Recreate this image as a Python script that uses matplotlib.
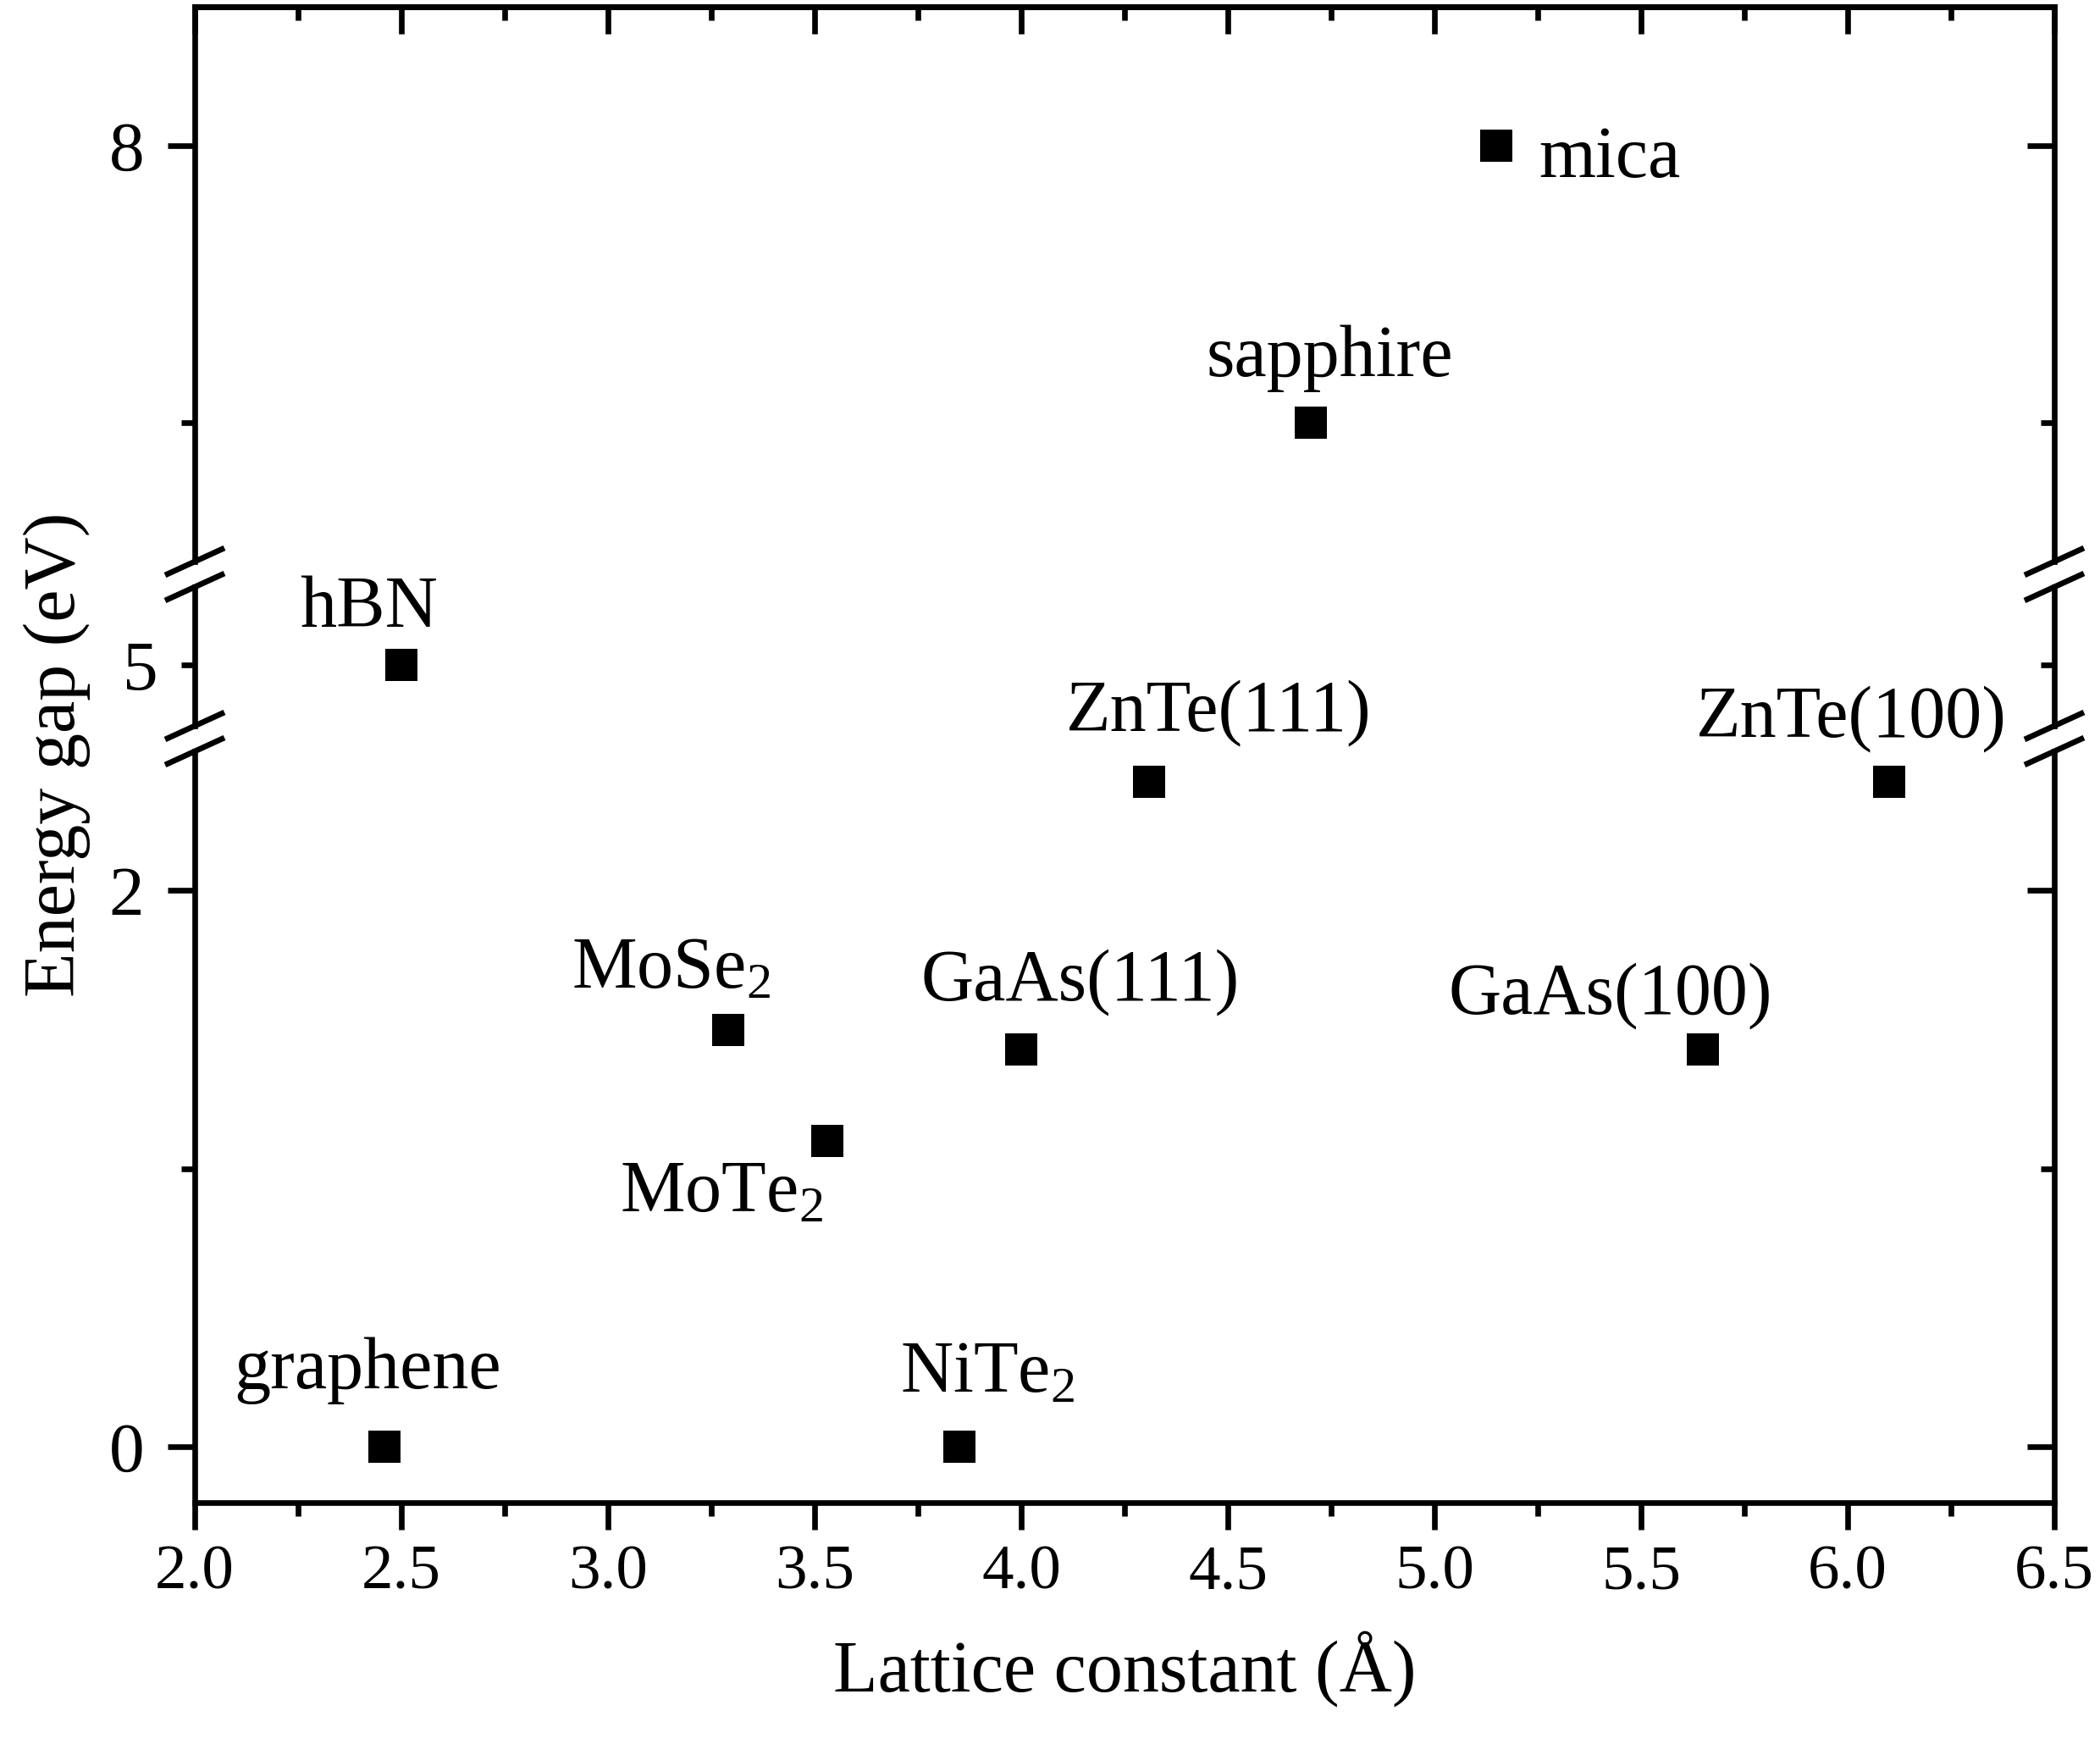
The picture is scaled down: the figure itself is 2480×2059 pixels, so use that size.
import matplotlib
matplotlib.use("Agg")
import matplotlib.pyplot as plt
from matplotlib.lines import Line2D
import numpy as np

plt.rcParams['font.family'] = ['Liberation Serif', 'DejaVu Serif']
plt.rcParams['mathtext.fontset'] = 'custom'
plt.rcParams['mathtext.rm'] = 'Liberation Serif'
plt.rcParams['mathtext.it'] = 'Liberation Serif:italic'

# data
materials = ['graphene', 'hBN', 'MoSe$_2$', 'MoTe$_2$', 'GaAs(111)', 'NiTe$_2$',
             'ZnTe(111)', 'sapphire', 'mica', 'GaAs(100)', 'ZnTe(100)']
lattice = [2.46, 2.50, 3.29, 3.53, 4.00, 3.85, 4.31, 4.70, 5.15, 5.65, 6.10]
gap = [0.0, 5.0, 1.50, 1.10, 1.43, 0.0, 2.39, 7.0, 8.0, 1.43, 2.39]
# label offsets (points) from each marker
label_dx = [-15, -28, -48, -90, 50, 24, 59, 16, 96, -79, -32]
label_dy = [50, 32, 36, -60, 42, 47, 44, 40, -27, 30, 39]

# broken y axis segments: (ymin, ymax), major ticks, minor ticks
segments = [((6.5, 8.5), [8], [7]),
            ((4.78, 5.28), [5], []),
            ((-0.2, 2.5), [0, 2], [1])]

W, H = 2480, 2059
L, R = 230, 2426
seg_px = [(8, 663), (693, 857), (887, 1774)]

LW = 4.8
MAJ, MIN = 23, 11.5

fig = plt.figure(figsize=(W / 100, H / 100), dpi=100)
axes = []
for i, ((lims, majors, minors), (yt, yb)) in enumerate(zip(segments, seg_px)):
    ax = fig.add_axes([L / W, 1 - yb / H, (R - L) / W, (yb - yt) / H])
    ax.set_xlim(2.0, 6.5)
    ax.set_ylim(*lims)
    ax.plot(lattice, gap, 's', color='black', ms=27, mew=0, zorder=3)

    for sp in ax.spines.values():
        sp.set_linewidth(LW)
    ax.spines['right'].set_visible(False)
    if i > 0:
        ax.spines['top'].set_visible(False)
    if i < len(segments) - 1:
        ax.spines['bottom'].set_visible(False)

    ax.set_yticks(majors)
    ax.set_yticks(minors, minor=True)
    ax.set_yticklabels([str(m) for m in majors])
    maj_len = MIN if i == 1 else MAJ
    ax.tick_params(axis='y', which='major', direction='out', length=maj_len,
                   width=LW, labelsize=60, pad=20)
    ax.tick_params(axis='y', which='minor', direction='out', length=MIN, width=LW)

    sec = ax.secondary_yaxis('right')
    sec.spines['right'].set_linewidth(LW)
    sec.set_yticks(majors)
    sec.set_yticks(minors, minor=True)
    sec.tick_params(axis='y', which='major', direction='in', length=maj_len,
                    width=LW, labelright=False)
    sec.tick_params(axis='y', which='minor', direction='in', length=MIN, width=LW)

    xmaj = np.arange(2.0, 6.51, 0.5)
    xmin = np.arange(2.25, 6.5, 0.5)
    if i == len(segments) - 1:
        ax.set_xticks(xmaj)
        ax.set_xticks(xmin, minor=True)
        ax.set_xticklabels(['%.1f' % v for v in xmaj])
        ax.tick_params(axis='x', which='major', direction='out', length=MAJ,
                       width=LW, labelsize=54, pad=13)
        ax.tick_params(axis='x', which='minor', direction='out', length=MIN, width=LW)
    else:
        ax.set_xticks([])
    if i == 0:
        top = ax.secondary_xaxis('top')
        top.spines['top'].set_linewidth(LW)
        top.set_xticks(xmaj)
        top.set_xticks(xmin, minor=True)
        top.tick_params(axis='x', which='major', direction='in', length=MAJ,
                        width=LW, labeltop=False)
        top.tick_params(axis='x', which='minor', direction='in', length=MIN, width=LW)

    for name, x, y, dx, dy in zip(materials, lattice, gap, label_dx, label_dy):
        if lims[0] <= y <= lims[1]:
            ax.annotate(name, (x, y), xytext=(dx, dy), textcoords='offset points',
                        ha='center', va='baseline', fontsize=62)
    axes.append(ax)

# break marks on both spines
dx, dy = 35 / W, 16 / H
for (yt0, yb0), (yt1, yb1) in zip(seg_px[:-1], seg_px[1:]):
    for ypx in (yb0, yt1):
        yf = 1 - ypx / H
        for xpx in (L, R):
            xf = xpx / W
            fig.add_artist(Line2D([xf - dx, xf + dx], [yf - dy, yf + dy],
                                  transform=fig.transFigure, color='black',
                                  lw=LW, solid_capstyle='butt'))

fig.text((L + R) / 2 / W, 1 - 1971 / H, 'Lattice constant (Å)', ha='center',
         va='center', fontsize=62)
fig.text(67 / W, 1 - 891 / H, 'Energy gap (eV)', ha='center', va='center',
         rotation=90, fontsize=62)

fig.savefig('out.png', dpi=100)
